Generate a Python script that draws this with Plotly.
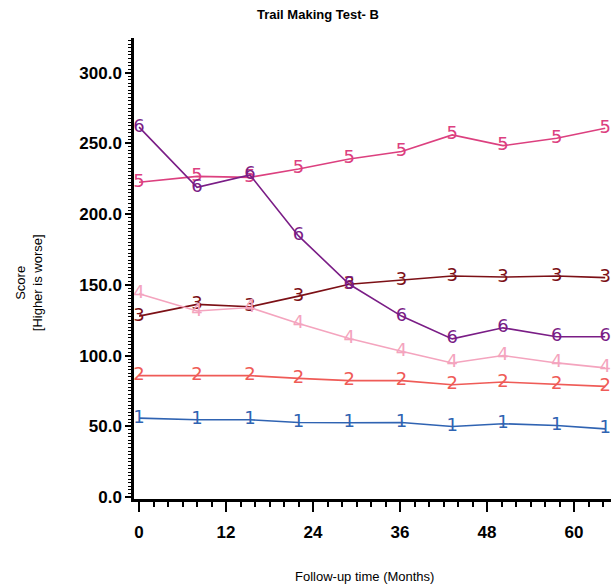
import plotly.graph_objects as go

months = [0, 8, 15.3, 22, 29, 36.2, 43.2, 50.2, 57.6, 64.3]

series_names = ["1", "2", "3", "4", "5", "6"]
s1 = [55.8, 54.6, 54.6, 52.7, 52.5, 52.7, 49.9, 51.8, 50.6, 48.2]
s2 = [85.8, 85.8, 85.8, 83.9, 82.3, 82.3, 79.4, 81.3, 79.4, 78.2]
s3 = [127.9, 136.2, 134.5, 142.0, 150.4, 153.4, 156.2, 155.5, 156.2, 155.1]
s4 = [143.7, 131.5, 134.0, 122.7, 112.0, 103.0, 94.8, 100.0, 94.8, 91.3]
s5 = [222.5, 226.7, 226.0, 231.9, 239.0, 244.2, 256.0, 248.4, 253.6, 260.7]
s6 = [261.5, 218.9, 227.7, 184.6, 150.4, 127.9, 111.8, 119.6, 113.3, 113.3]
series_values = [s1, s2, s3, s4, s5, s6]
colors = ["#2f63b2", "#ef5b57", "#7c1016", "#f4a4be", "#dc407f", "#7a1d86"]

y_ticks = [0, 50, 100, 150, 200, 250, 300]
y_tick_labels = ["0.0", "50.0", "100.0", "150.0", "200.0", "250.0", "300.0"]
x_ticks = [0, 12, 24, 36, 48, 60]
x_tick_labels = ["0", "12", "24", "36", "48", "60"]

fig = go.Figure()
for name, vals, col in zip(series_names, series_values, colors):
    fig.add_trace(go.Scatter(
        x=months, y=vals, mode="lines+text",
        text=[name] * len(vals), textposition="middle center",
        textfont=dict(family="DejaVu Sans", size=18, color=col),
        line=dict(color=col, width=1.6),
        cliponaxis=False, showlegend=False, name=name,
    ))

W, H = 611, 588
L, R, T, B = 134, 0, 38, 588 - 499.5
pw, ph = W - L - R, H - T - B

def px(x):
    return (x - L) / pw

def py(y):
    return (H - B - y) / ph

fig.update_layout(
    width=W, height=H,
    margin=dict(l=L, r=R, t=T, b=B, pad=0),
    plot_bgcolor="white", paper_bgcolor="white",
    xaxis=dict(
        range=[-0.7, 65.1], showgrid=False, zeroline=False,
        showline=True, linecolor="black", linewidth=2.5,
        tickmode="array", tickvals=x_ticks, ticktext=x_tick_labels,
        ticks="outside", ticklen=10, tickwidth=2, tickcolor="black",
        tickfont=dict(family="Liberation Sans, Arial", size=17, color="black", weight="bold"),
        ticklabelstandoff=6,
        minor=dict(dtick=2, ticks="outside", ticklen=5, tickwidth=1.5, tickcolor="black"),
    ),
    yaxis=dict(
        range=[-1.4, 324.5], showgrid=False, zeroline=False,
        showline=True, linecolor="black", linewidth=2.5,
        tickmode="array", tickvals=y_ticks, ticktext=y_tick_labels,
        ticks="outside", ticklen=6, tickwidth=2, tickcolor="black",
        tickfont=dict(family="Liberation Sans, Arial", size=17, color="black", weight="bold"),
        minor=dict(dtick=2.5, ticks="outside", ticklen=3.5, tickwidth=1.2, tickcolor="black"),
    ),
    annotations=[
        dict(text="<b>Trail Making Test- B</b>", x=px(318), y=py(14), xref="paper", yref="paper",
             showarrow=False, xanchor="center", yanchor="middle",
             font=dict(family="Liberation Sans, Arial", size=13, color="black")),
        dict(text="Follow-up time (Months)", x=px(364), y=py(577), xref="paper", yref="paper",
             showarrow=False, xanchor="center", yanchor="middle",
             font=dict(family="Liberation Sans, Arial", size=13, color="black")),
        dict(text="Score<br>[Higher is worse]", x=px(28.5), y=py(283), xref="paper", yref="paper",
             showarrow=False, xanchor="center", yanchor="middle", textangle=-90,
             font=dict(family="Liberation Sans, Arial", size=13, color="black")),
    ],
)

fig.write_html(
    "out.html",
    config={"displayModeBar": False},
    post_script="document.body.style.margin='0';document.body.style.overflow='hidden';",
)
